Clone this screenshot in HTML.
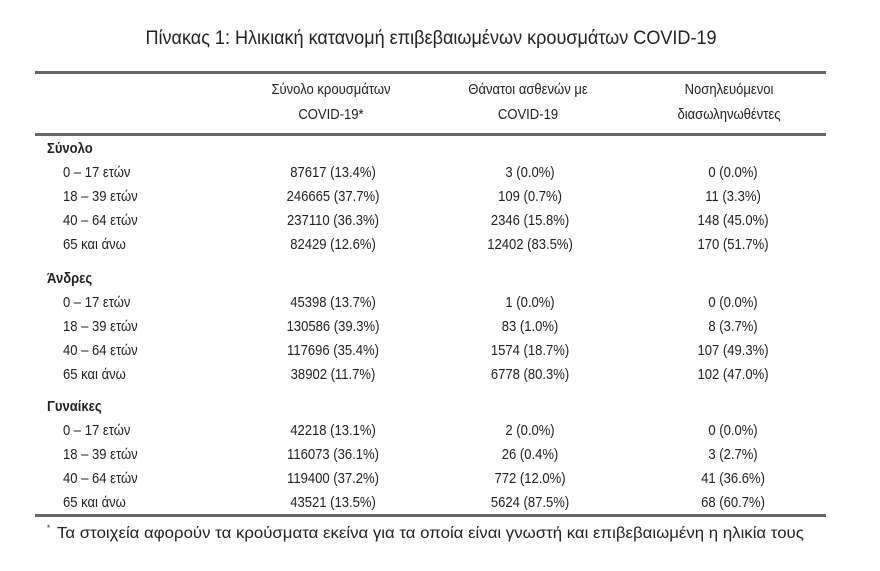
<!DOCTYPE html>
<html><head><meta charset="utf-8"><style>
html,body{margin:0;padding:0;background:#fff;}
body{width:880px;height:571px;position:relative;overflow:hidden;font-family:"Liberation Sans",sans-serif;color:#222;}
.t{position:absolute;white-space:nowrap;font-size:15px;line-height:16px;transform-origin:0 50%;transform:scaleX(.87);}
.c{position:absolute;white-space:nowrap;font-size:15px;line-height:16px;transform:translateX(-50%) scaleX(.87);}
.b{font-weight:bold;}
.ln{position:absolute;left:35px;width:791px;background:#666;}
</style></head><body>
<div class="c" style="left:431px;top:29px;font-size:19px;line-height:20px;transform:translateX(-50%) scaleX(.95);">Πίνακας 1: Ηλικιακή κατανομή επιβεβαιωμένων κρουσμάτων COVID-19</div>
<div class="ln" style="top:71px;height:3px;"></div>
<div class="ln" style="top:133px;height:3px;"></div>
<div class="ln" style="top:514px;height:3px;"></div>
<div class="c" style="left:331px;top:82px;">Σύνολο κρουσμάτων</div>
<div class="c" style="left:331px;top:107px;">COVID-19*</div>
<div class="c" style="left:528px;top:82px;">Θάνατοι ασθενών με</div>
<div class="c" style="left:528px;top:107px;">COVID-19</div>
<div class="c" style="left:729px;top:82px;">Νοσηλευόμενοι</div>
<div class="c" style="left:729px;top:107px;">διασωληνωθέντες</div>

<div class="t b" style="left:47px;top:141px;">Σύνολο</div>
<div class="t" style="left:63px;top:165px;">0 – 17 ετών</div><div class="c" style="left:333px;top:165px;">87617 (13.4%)</div><div class="c" style="left:530px;top:165px;">3 (0.0%)</div><div class="c" style="left:733px;top:165px;">0 (0.0%)</div>
<div class="t" style="left:63px;top:189px;">18 – 39 ετών</div><div class="c" style="left:333px;top:189px;">246665 (37.7%)</div><div class="c" style="left:530px;top:189px;">109 (0.7%)</div><div class="c" style="left:733px;top:189px;">11 (3.3%)</div>
<div class="t" style="left:63px;top:213px;">40 – 64 ετών</div><div class="c" style="left:333px;top:213px;">237110 (36.3%)</div><div class="c" style="left:530px;top:213px;">2346 (15.8%)</div><div class="c" style="left:733px;top:213px;">148 (45.0%)</div>
<div class="t" style="left:63px;top:237px;">65 και άνω</div><div class="c" style="left:333px;top:237px;">82429 (12.6%)</div><div class="c" style="left:530px;top:237px;">12402 (83.5%)</div><div class="c" style="left:733px;top:237px;">170 (51.7%)</div>

<div class="t b" style="left:47px;top:271px;">Άνδρες</div>
<div class="t" style="left:63px;top:295px;">0 – 17 ετών</div><div class="c" style="left:333px;top:295px;">45398 (13.7%)</div><div class="c" style="left:530px;top:295px;">1 (0.0%)</div><div class="c" style="left:733px;top:295px;">0 (0.0%)</div>
<div class="t" style="left:63px;top:319px;">18 – 39 ετών</div><div class="c" style="left:333px;top:319px;">130586 (39.3%)</div><div class="c" style="left:530px;top:319px;">83 (1.0%)</div><div class="c" style="left:733px;top:319px;">8 (3.7%)</div>
<div class="t" style="left:63px;top:343px;">40 – 64 ετών</div><div class="c" style="left:333px;top:343px;">117696 (35.4%)</div><div class="c" style="left:530px;top:343px;">1574 (18.7%)</div><div class="c" style="left:733px;top:343px;">107 (49.3%)</div>
<div class="t" style="left:63px;top:367px;">65 και άνω</div><div class="c" style="left:333px;top:367px;">38902 (11.7%)</div><div class="c" style="left:530px;top:367px;">6778 (80.3%)</div><div class="c" style="left:733px;top:367px;">102 (47.0%)</div>

<div class="t b" style="left:47px;top:399px;">Γυναίκες</div>
<div class="t" style="left:63px;top:423px;">0 – 17 ετών</div><div class="c" style="left:333px;top:423px;">42218 (13.1%)</div><div class="c" style="left:530px;top:423px;">2 (0.0%)</div><div class="c" style="left:733px;top:423px;">0 (0.0%)</div>
<div class="t" style="left:63px;top:447px;">18 – 39 ετών</div><div class="c" style="left:333px;top:447px;">116073 (36.1%)</div><div class="c" style="left:530px;top:447px;">26 (0.4%)</div><div class="c" style="left:733px;top:447px;">3 (2.7%)</div>
<div class="t" style="left:63px;top:471px;">40 – 64 ετών</div><div class="c" style="left:333px;top:471px;">119400 (37.2%)</div><div class="c" style="left:530px;top:471px;">772 (12.0%)</div><div class="c" style="left:733px;top:471px;">41 (36.6%)</div>
<div class="t" style="left:63px;top:495px;">65 και άνω</div><div class="c" style="left:333px;top:495px;">43521 (13.5%)</div><div class="c" style="left:530px;top:495px;">5624 (87.5%)</div><div class="c" style="left:733px;top:495px;">68 (60.7%)</div>

<div class="t" style="left:47px;top:520px;font-size:9px;">*</div>
<div class="t" style="left:57px;top:526px;font-size:16px;transform:scaleX(1.05);">Τα στοιχεία αφορούν τα κρούσματα εκείνα για τα οποία είναι γνωστή και επιβεβαιωμένη η ηλικία τους</div>
</body></html>
